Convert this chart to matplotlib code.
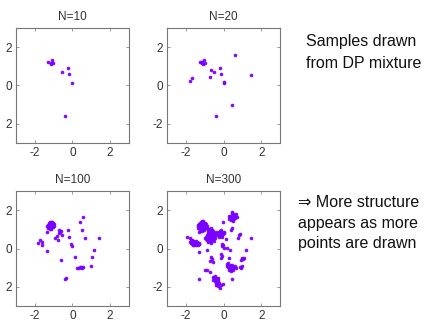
import matplotlib
matplotlib.use("Agg")
import matplotlib.pyplot as plt

plt.rcParams['font.family'] = ['Liberation Sans', 'DejaVu Sans']

titles = ["N=10", "N=20", "N=100", "N=300"]
tick_vals = [-2, 0, 2]
x_tick_labels = ["-2", "0", "2"]
y_tick_labels = [["2", "0", "2"], ["-2", "0", "2"], ["2", "0", "2"], ["-2", "0", "2"]]

pts10 = [(-1.30, 1.23), (-1.09, 1.33), (-1.16, 1.12), (-1.04, 1.17), (-1.12, 1.19),
         (-0.58, 0.69), (-0.24, 0.91), (-0.17, 0.58), (-0.03, 0.11), (-0.42, -1.61)]

pts20 = [(-1.24, 1.22), (-1.17, 1.22), (-1.03, 1.33), (-1.09, 1.12), (-0.98, 1.16),
         (-1.12, 1.19), (-1.20, 1.25), (0.63, 1.61), (-0.20, 0.93), (-0.65, 0.83),
         (-0.52, 0.69), (-0.12, 0.58), (-0.73, 0.43), (-1.67, 0.39), (-1.78, 0.25),
         (0.01, 0.18), (0.03, 0.11), (1.48, 0.53), (0.43, -1.00), (-0.38, -1.61)]

pts100 = [(-1.30, 1.25), (-1.22, 1.32), (-1.15, 1.38), (-1.08, 1.30), (-1.02, 1.22),
          (-1.10, 1.15), (-1.18, 1.10), (-1.25, 1.15), (-1.12, 1.25), (-1.20, 1.22),
          (-1.05, 1.12), (-1.28, 1.05), (-1.15, 1.02), (-1.00, 1.18), (-1.35, 1.20),
          (-1.18, 1.40), (-1.08, 1.40), (-1.25, 1.35), (-0.98, 1.30), (-1.12, 1.08),
          (-1.22, 1.00), (-1.32, 1.12), (-1.16, 1.18), (-1.04, 1.34), (-1.20, 1.28),
          (-1.08, 1.20), (-1.34, 0.88),
          (0.58, 1.64), (0.40, 1.40), (-0.73, 0.97), (-0.65, 0.88), (-0.70, 0.83),
          (-0.60, 0.92), (-0.68, 0.93), (-0.26, 0.97), (0.50, 0.97), (-0.82, 0.67),
          (-0.58, 0.72), (-0.17, 0.62), (-0.95, 0.53), (-0.77, 0.46), (0.68, 0.57),
          (1.41, 0.57), (-1.73, 0.43), (-1.60, 0.36), (-1.83, 0.27), (-1.60, 0.18),
          (-0.06, 0.22), (-0.03, 0.15), (1.12, -0.10), (-1.34, -0.13), (1.02, -0.46),
          (0.12, -0.46), (-0.59, -0.62), (0.96, -0.93), (0.26, -1.02), (0.36, -1.00),
          (0.45, -0.98), (0.54, -0.98), (0.50, -1.01), (0.40, -0.99),
          (-0.42, -1.59), (-0.36, -1.54)]

pts300 = [
    # cluster near (-1.1, 1.2)
    (-1.30, 1.25), (-1.25, 1.35), (-1.20, 1.40), (-1.15, 1.45), (-1.10, 1.38),
    (-1.05, 1.30), (-1.00, 1.25), (-0.95, 1.20), (-0.92, 1.10), (-1.00, 1.05),
    (-1.08, 1.00), (-1.15, 0.95), (-1.22, 1.00), (-1.28, 1.08), (-1.32, 1.15),
    (-1.35, 1.22), (-1.18, 1.20), (-1.12, 1.15), (-1.05, 1.12), (-1.10, 1.25),
    (-1.20, 1.10), (-1.25, 1.18), (-1.00, 1.35), (-0.95, 1.30), (-1.15, 1.30),
    (-1.08, 1.45), (-1.20, 1.30), (-1.30, 1.30), (-0.90, 1.15), (-1.02, 0.95),
    (-1.12, 0.90), (-1.25, 0.92), (-1.35, 1.05), (-1.38, 1.15), (-1.10, 1.08),
    (-1.00, 1.15), (-1.16, 1.05), (-1.06, 1.22), (-1.14, 1.38), (-1.28, 0.85),
    (-0.88, 1.05),
    # cluster near (-0.7, 0.65)
    (-0.75, 1.00), (-0.68, 1.05), (-0.60, 0.98), (-0.55, 0.90), (-0.50, 0.82),
    (-0.45, 0.75), (-0.62, 0.85), (-0.70, 0.90), (-0.80, 0.85), (-0.85, 0.75),
    (-0.90, 0.68), (-0.95, 0.60), (-0.88, 0.55), (-0.80, 0.50), (-0.72, 0.45),
    (-0.65, 0.40), (-0.58, 0.48), (-0.52, 0.55), (-0.48, 0.65), (-0.60, 0.62),
    (-0.68, 0.65), (-0.75, 0.70), (-0.82, 0.62), (-0.70, 0.55), (-0.62, 0.72),
    (-0.55, 0.70), (-0.78, 0.78), (-0.66, 0.78), (-0.58, 0.80), (-0.72, 0.38),
    (-0.80, 0.35), (-0.88, 0.42), (-0.95, 0.48), (-1.00, 0.55), (-0.65, 0.30),
    (-0.52, 0.40), (-0.45, 0.55), (-0.42, 0.85), (-0.85, 0.95), (-0.76, 0.58),
    (-0.64, 0.52), (-0.70, 0.80),
    # cluster near (-1.55, 0.35)
    (-1.94, 0.58), (-1.80, 0.55), (-1.75, 0.45), (-1.70, 0.40), (-1.65, 0.35),
    (-1.60, 0.30), (-1.55, 0.28), (-1.50, 0.25), (-1.45, 0.22), (-1.40, 0.25),
    (-1.35, 0.28), (-1.30, 0.30), (-1.72, 0.30), (-1.68, 0.25), (-1.62, 0.22),
    (-1.55, 0.20), (-1.48, 0.18), (-1.42, 0.32), (-1.52, 0.35), (-1.58, 0.40),
    (-1.65, 0.45), (-1.38, 0.20), (-1.32, 0.22), (-1.45, 0.38), (-1.78, 0.35),
    (-1.60, 0.18), (-1.28, 0.26),
    # cluster near (-0.2, 0.75)
    (-0.30, 0.80), (-0.25, 0.85), (-0.20, 0.90), (-0.15, 0.88), (-0.10, 0.82),
    (-0.05, 0.75), (-0.12, 0.70), (-0.20, 0.65), (-0.28, 0.70), (-0.33, 0.75),
    (-0.18, 0.78), (-0.08, 0.68), (-0.22, 0.60), (-0.14, 0.95), (0.00, 0.80),
    (-0.25, 0.72), (-0.10, 0.60), (0.02, 0.88),
    # cluster near (0.5, 1.65)
    (0.45, 1.85), (0.52, 1.80), (0.58, 1.75), (0.62, 1.70), (0.55, 1.65),
    (0.48, 1.62), (0.40, 1.58), (0.35, 1.65), (0.42, 1.72), (0.50, 1.72),
    (0.60, 1.60), (0.65, 1.78), (0.30, 1.55), (0.38, 1.48), (0.52, 1.50),
    (0.70, 1.65), (0.28, 1.70), (0.45, 1.90), (0.52, 1.45),
    # cluster near (0.35, -0.95)
    (0.20, -0.80), (0.25, -0.85), (0.30, -0.90), (0.35, -0.95), (0.40, -1.00),
    (0.45, -1.05), (0.50, -1.00), (0.55, -0.95), (0.60, -0.92), (0.28, -1.00),
    (0.32, -1.08), (0.38, -1.12), (0.45, -0.88), (0.25, -0.95), (0.35, -0.85),
    (0.22, -0.75), (0.42, -1.15), (0.30, -1.12), (0.50, -1.10), (0.65, -1.00),
    (0.18, -0.90),
    # cluster near (-0.4, -1.7)
    (-0.55, -1.50), (-0.50, -1.55), (-0.45, -1.60), (-0.40, -1.65), (-0.35, -1.70),
    (-0.30, -1.75), (-0.42, -1.78), (-0.48, -1.70), (-0.38, -1.55), (-0.32, -1.62),
    (-0.25, -1.80), (-0.35, -1.85), (-0.28, -1.95), (-0.15, -1.90), (-0.20, -2.05),
    (-0.45, -1.45), (-0.55, -1.62), (-0.40, -1.90), (-0.30, -1.52), (-0.03, -1.83),
    # small groups and scattered points
    (0.98, -0.48), (1.07, -0.48), (1.04, -0.57), (0.93, -0.62),
    (0.85, -0.95), (0.95, -1.00), (1.00, -0.93),
    (-0.10, 0.25), (-0.03, 0.18), (0.01, 0.04), (-0.06, 0.13),
    (1.18, -0.10), (0.36, -0.10), (0.27, -0.48),
    (-0.13, -0.27), (-0.08, -0.39), (-0.12, -0.51),
    (-0.66, -0.44), (-0.61, -0.57), (-0.70, -0.65), (-0.56, -0.69),
    (-0.88, -0.10), (-1.28, -0.16),
    (-0.96, -1.14), (-0.88, -1.10), (-0.73, -1.21),
    (-1.28, -1.61), (0.47, -1.61), (-0.04, 1.40),
    (0.45, 1.05), (0.38, 0.98), (0.77, 0.57), (0.89, 0.77), (0.82, 0.70),
    (1.46, 0.57), (0.20, 0.05), (0.15, 0.50),
]

data = [pts10, pts20, pts100, pts300]

fig = plt.figure(figsize=(4.24, 3.22), dpi=100)
positions = [
    [0.0377, 0.556, 0.2665, 0.357],
    [0.394, 0.556, 0.2665, 0.357],
    [0.0377, 0.0497, 0.2665, 0.357],
    [0.394, 0.0497, 0.2665, 0.357],
]

dot_color = "#7a00ff"
for i, (pos, pts) in enumerate(zip(positions, data)):
    ax = fig.add_axes(pos)
    xs = [p[0] for p in pts]
    ys = [p[1] for p in pts]
    ax.plot(xs, ys, linestyle="none", marker="o", markersize=2.6,
            markeredgewidth=0, color=dot_color, alpha=0.95)
    ax.set_xlim(-3, 3)
    ax.set_ylim(-3, 3)
    ax.set_xticks(tick_vals)
    ax.set_yticks(tick_vals)
    ax.set_xticklabels(x_tick_labels)
    ax.set_yticklabels(y_tick_labels[i])
    ax.tick_params(direction="in", top=True, right=True, length=2.5, width=0.6,
                   colors="#888888", labelcolor="#333333", labelsize=8.5, pad=3)
    for s in ax.spines.values():
        s.set_color("#777777")
        s.set_linewidth(0.8)
    ax.set_title(titles[i], fontsize=8.5, color="#333333", pad=6)

txt_kw = dict(fontsize=11.5, color="#111111", va="center", ha="left")
fig.text(0.722, 0.870, "Samples drawn", **txt_kw)
fig.text(0.722, 0.804, "from DP mixture", **txt_kw)
fig.text(0.703, 0.370, "\u21d2 More structure", **txt_kw)
fig.text(0.703, 0.307, "appears as more", **txt_kw)
fig.text(0.703, 0.245, "points are drawn", **txt_kw)

fig.savefig("out.png", dpi=100)
